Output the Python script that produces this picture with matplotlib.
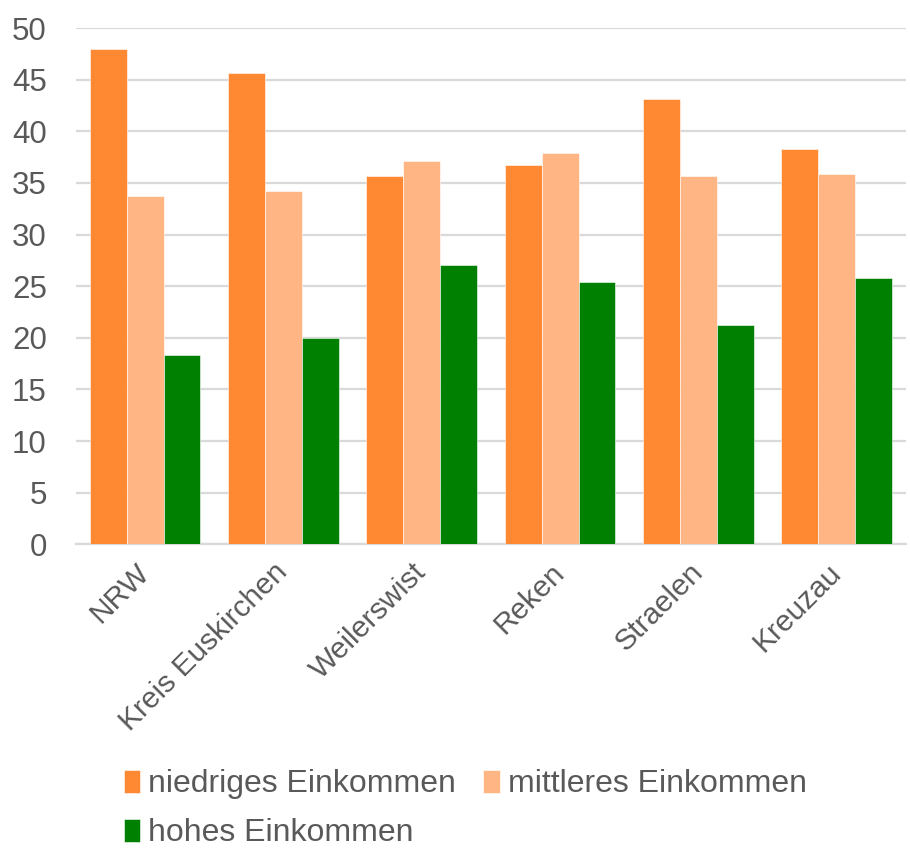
import matplotlib
matplotlib.use("Agg")
import matplotlib.pyplot as plt
import numpy as np

# ── Data ──────────────────────────────────────────────────────────────────────
regions = ["NRW", "Kreis Euskirchen", "Weilerswist", "Reken", "Straelen", "Kreuzau"]
niedrig = [48.0, 45.6, 35.7, 36.7, 43.1, 38.3]
mittel  = [33.7, 34.2, 37.1, 37.9, 35.7, 35.9]
hoch    = [18.3, 20.0, 27.1, 25.4, 21.2, 25.8]
yticks  = [0, 5, 10, 15, 20, 25, 30, 35, 40, 45, 50]

C_LOW, C_MID, C_HIGH = "#FF8833", "#FFB684", "#008000"
TXT = "#595959"

plt.rcParams["font.family"] = ["Liberation Sans", "DejaVu Sans"]

fig = plt.figure(figsize=(9.1, 8.5), dpi=100)
ax = fig.add_axes([0.0835, 0.3596, 0.912, 0.6074])

x = np.arange(len(regions))
w = 0.8 / 3
b1 = ax.bar(x - w, niedrig, w, color=C_LOW, edgecolor="white", linewidth=0.4,
            label="niedriges Einkommen", zorder=3)
b2 = ax.bar(x, mittel, w, color=C_MID, edgecolor="white", linewidth=0.4,
            label="mittleres Einkommen", zorder=3)
b3 = ax.bar(x + w, hoch, w, color=C_HIGH, edgecolor="white", linewidth=0.4,
            label="hohes Einkommen", zorder=3)

ax.set_xlim(-0.5, len(regions) - 0.5)
ax.set_ylim(0, 50)
ax.set_yticks(yticks)
ax.yaxis.grid(True, color="#d9d9d9", linewidth=1.6, zorder=0)
ax.set_axisbelow(True)
for s in ["top", "right", "left"]:
    ax.spines[s].set_visible(False)
ax.spines["bottom"].set_color("#d9d9d9")
ax.spines["bottom"].set_linewidth(1.6)

ax.tick_params(axis="y", length=0, pad=21, labelsize=22.5, labelcolor=TXT)
ax.tick_params(axis="x", length=0, pad=17, labelsize=21.5, labelcolor=TXT)
ax.set_xticks(x)
ax.set_xticklabels(regions, rotation=45, ha="right", va="center",
                   rotation_mode="anchor")

# legend: rows "niedrig, mittel" / "hoch"
leg = fig.legend([b1, b3, b2],
                 ["niedriges Einkommen", "hohes Einkommen", "mittleres Einkommen"],
                 ncol=2, loc="upper left", bbox_to_anchor=(0.136, 0.095),
                 frameon=False, fontsize=23, handlelength=0.52, handleheight=0.74,
                 handletextpad=0.25, columnspacing=0.85, labelspacing=0.6,
                 borderpad=0, borderaxespad=0)
for t in leg.get_texts():
    t.set_color(TXT)

fig.savefig("out.png", dpi=100)
